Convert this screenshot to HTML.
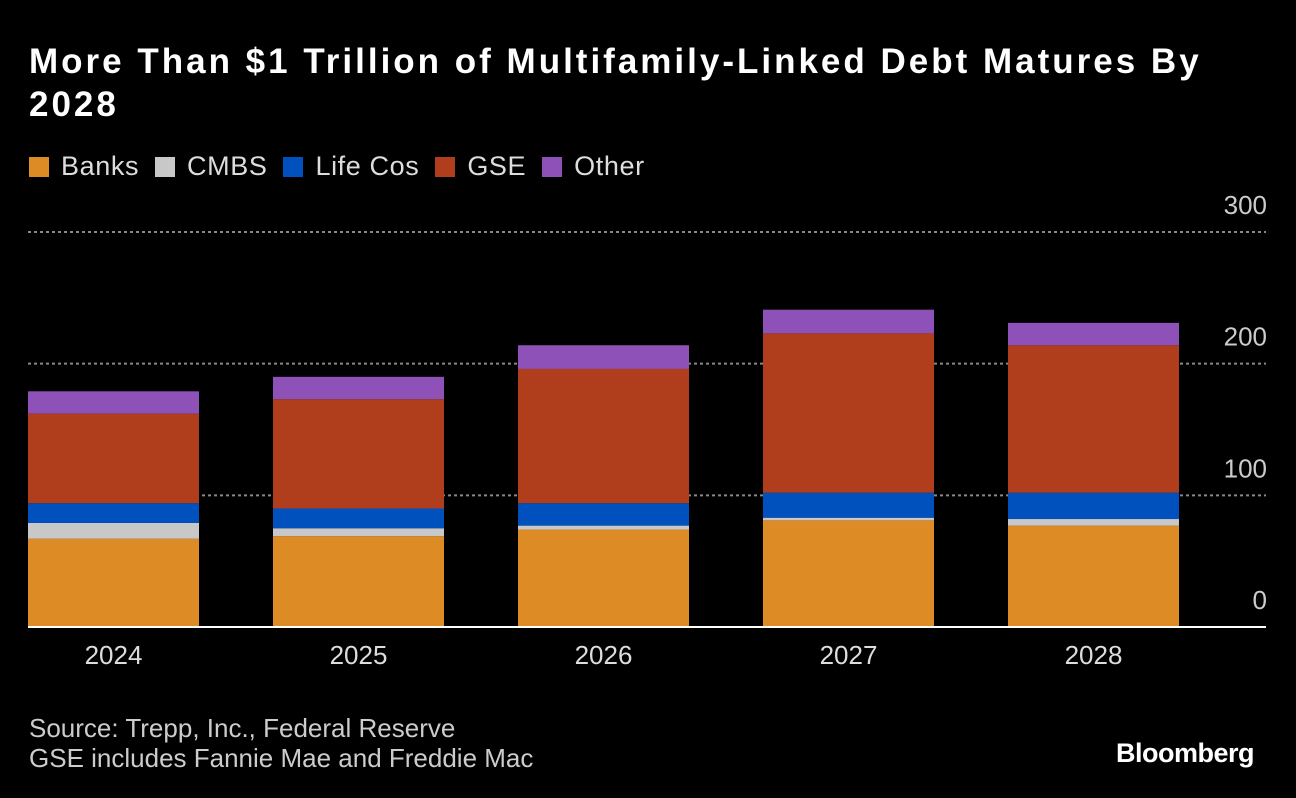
<!DOCTYPE html>
<html><head><meta charset="utf-8"><style>
body{margin:0;background:#000;width:1296px;height:798px;overflow:hidden;font-family:"Liberation Sans",sans-serif;color:#fff}
#title{position:absolute;left:29px;top:40px;font-size:35px;font-weight:bold;line-height:43px;letter-spacing:3px;white-space:nowrap}
#legend{position:absolute;left:29px;top:151px;font-size:27px;color:#ddd;display:flex;letter-spacing:0.6px}
.li{display:flex;align-items:center;margin-right:16px}
.sw{width:20px;height:20px;margin-right:12px}
.src{position:absolute;left:29px;font-size:26px;color:#ccc}
#logo{position:absolute;left:1116px;top:738px;font-size:27px;font-weight:bold;letter-spacing:-0.5px}
</style></head><body>
<div id="title">More Than $1 Trillion of Multifamily-Linked Debt Matures By<br>2028</div>
<div id="legend">
<div class="li"><div class="sw" style="background:#dc8b25"></div>Banks</div>
<div class="li"><div class="sw" style="background:#c8c8c8"></div>CMBS</div>
<div class="li"><div class="sw" style="background:#0050be"></div>Life Cos</div>
<div class="li"><div class="sw" style="background:#b03d1b"></div>GSE</div>
<div class="li"><div class="sw" style="background:#8e51b8"></div>Other</div>
</div>
<svg id="chart" width="1296" height="798" style="position:absolute;left:0;top:0"></svg>
<div class="src" style="top:713px">Source: Trepp, Inc., Federal Reserve</div>
<div class="src" style="top:743px">GSE includes Fannie Mae and Freddie Mac</div>
<div id="logo">Bloomberg</div>
<script>
const categories=["2024","2025","2026","2027","2028"];
const seriesNames=["Banks","CMBS","Life Cos","GSE","Other"];
const banks=[67,69,74,81,77];
const cmbs=[12,6,3,2,5];
const lifeCos=[15,15,17,19,20];
const gse=[68,83,102,121,112];
const other=[17,17,18,18,17];
const yTicks=[0,100,200,300];
const colors=["#dc8b25","#c8c8c8","#0050be","#b03d1b","#8e51b8"];
const svg=document.getElementById('chart');
const NS="http://www.w3.org/2000/svg";
const y0=627,pxPer=(627-232)/300;
const y=v=>y0-v*pxPer;
const x=i=>28+i*245;
const bw=171;
function mk(t,a){const e=document.createElementNS(NS,t);for(const k in a)e.setAttribute(k,a[k]);svg.appendChild(e);return e;}
yTicks.forEach(t=>{
  if(t>0){const l=mk('line',{x1:28,x2:1266,y1:y(t),y2:y(t),stroke:'#888','stroke-width':2,'stroke-dasharray':'3,3'});
  
  }
  const tx=mk('text',{x:1267,y:y(t)-18,'text-anchor':'end',fill:'#ccc','font-size':26,'font-family':'Liberation Sans, sans-serif'});
  tx.textContent=t;
  
  
});
const series=[banks,cmbs,lifeCos,gse,other];
categories.forEach((c,i)=>{
  let acc=0;
  series.forEach((s,j)=>{
    const r=mk('rect',{x:x(i),y:y(acc+s[i]),width:bw,height:s[i]*pxPer,fill:colors[j]});
    
    
    acc+=s[i];
  });
  const tx=mk('text',{x:x(i)+bw/2,y:664,'text-anchor':'middle',fill:'#ddd','font-size':26,'font-family':'Liberation Sans, sans-serif'});
  tx.textContent=c;
  
  
});
const ax=mk('line',{x1:28,x2:1266,y1:y0,y2:y0,stroke:'#fff','stroke-width':2});


</script>
</body></html>
